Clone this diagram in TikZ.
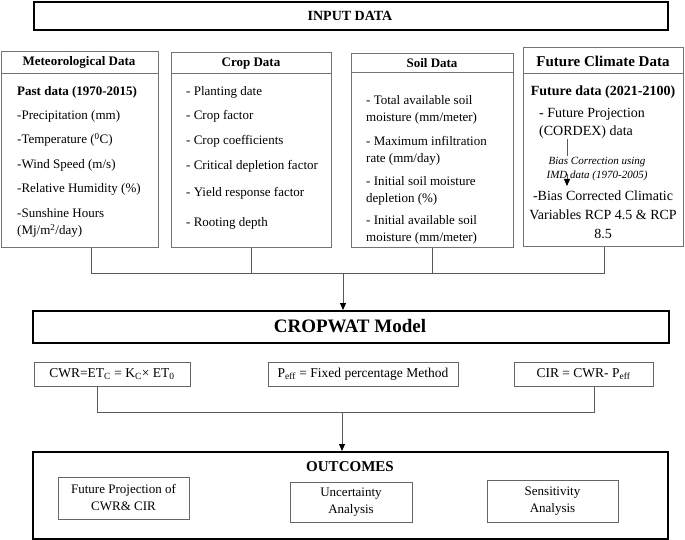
\documentclass[tikz,border=0pt]{standalone}
\usepackage{fontspec}
\setmainfont{Liberation Serif}
\usetikzlibrary{arrows.meta}
\begin{document}
\begin{tikzpicture}[x=1pt,y=-1pt,
  thickbox/.style={draw=black,line width=1.8pt,inner sep=0pt},
  databox/.style={draw=black!55,line width=0.9pt,inner sep=0pt},
  smallbox/.style={draw=black!60,line width=0.8pt,inner sep=0pt,align=center,font=\fontsize{13}{17}\selectfont},
  eqbox/.style={smallbox,font=\fontsize{13.5}{16}\selectfont},
  txt/.style={inner sep=0pt,anchor=west,font=\fontsize{13}{15}\selectfont},
  ftxt/.style={inner sep=0pt,font=\fontsize{14}{16}\selectfont},
  hdr/.style={inner sep=0pt,font=\fontsize{13}{15}\selectfont\bfseries},
  conn/.style={draw=black!65,line width=0.9pt},
  arr/.style={draw=black!65,line width=0.9pt,-{Triangle[length=7pt,width=6pt,color=black]}},
  hline/.style={draw=black!55,line width=0.8pt}
]
\useasboundingbox (0,0) rectangle (685,540);

% INPUT DATA
\node[thickbox,anchor=north west,minimum width=634pt,minimum height=28pt] (input) at (33,1.5) {};
\node[hdr,font=\fontsize{14}{16}\selectfont\bfseries] (inputt) at (350,15.5) {INPUT DATA};

% Meteorological box
\node[databox,anchor=north west,minimum width=157pt,minimum height=196pt] (met) at (0.6,51) {};
\draw[hline] (met.north west) ++(0,22) -- ++(157,0);
\node[hdr] (meth) at (79,62.5) {Meteorological Data};
\node[txt,font=\fontsize{13}{15}\selectfont\bfseries] (m1) at (17,92) {Past data (1970-2015)};
\node[txt] (m2) at (17,116) {-Precipitation (mm)};
\node[txt] (m3) at (17,140) {-Temperature (\textsuperscript{0}C)};
\node[txt] (m4) at (17,165) {-Wind Speed (m/s)};
\node[txt] (m5) at (17,189) {-Relative Humidity (\%)};
\node[txt] (m6) at (17,213) {-Sunshine Hours};
\node[txt] (m7) at (17,231) {(Mj/m\textsuperscript{2}/day)};

% Crop box
\node[databox,anchor=north west,minimum width=160pt,minimum height=195pt] (crop) at (171,52) {};
\draw[hline] (crop.north west) ++(0,21.5) -- ++(160,0);
\node[hdr] (croph) at (251,64) {Crop Data};
\node[txt] (c1) at (186,92) {- Planting date};
\node[txt] (c2) at (186,116) {- Crop factor};
\node[txt] (c3) at (186,141) {- Crop coefficients};
\node[txt] (c4) at (186,166) {- Critical depletion factor};
\node[txt] (c5) at (186,193) {- Yield response factor};
\node[txt] (c6) at (186,223) {- Rooting depth};

% Soil box
\node[databox,anchor=north west,minimum width=162pt,minimum height=194pt] (soil) at (351,53) {};
\draw[hline] (soil.north west) ++(0,19.5) -- ++(162,0);
\node[hdr] (soilh) at (432,63.5) {Soil Data};
\node[txt] (s1) at (366,100) {- Total available soil};
\node[txt] (s2) at (366,118) {moisture (mm/meter)};
\node[txt] (s3) at (366,141) {- Maximum infiltration};
\node[txt] (s4) at (366,159) {rate (mm/day)};
\node[txt] (s5) at (366,181) {- Initial soil moisture};
\node[txt] (s6) at (366,199) {depletion (\%)};
\node[txt] (s7) at (366,220) {- Initial available soil};
\node[txt] (s8) at (366,238) {moisture (mm/meter)};

% Future climate box
\node[databox,anchor=north west,minimum width=160pt,minimum height=199pt] (fut) at (523,47) {};
\draw[hline] (fut.north west) ++(0,26) -- ++(160,0);
\node[hdr,font=\fontsize{15}{17}\selectfont\bfseries] (futh) at (603,61) {Future Climate Data};
\node[ftxt,font=\fontsize{14}{16}\selectfont\bfseries] (f1) at (603,92) {Future data (2021-2100)};
\node[ftxt,anchor=west] (f2) at (539,114) {- Future Projection};
\node[ftxt,anchor=west] (f3) at (539,132) {(CORDEX) data};
\node[inner sep=0.5pt,fill=white,align=center,font=\fontsize{11}{14}\selectfont\itshape] (bias) at (597,169) {Bias Correction using\\IMD data (1970-2005)};
\coordinate (bcA) at (567,139);
\coordinate (bcM) at (567,174);
\coordinate (bcB) at (567,186);
\draw[conn] (bcA) -- (bias.north -| bcA);
\draw[arr] (bcM) -- (bcB);
\node[ftxt] (f4) at (603,196) {-Bias Corrected Climatic};
\node[ftxt] (f5) at (603,215) {Variables RCP 4.5 \& RCP};
\node[ftxt] (f6) at (603,234) {8.5};

% Top connectors
\coordinate (busL) at (91,273);
\coordinate (busR) at (604,273);
\coordinate (bus) at (343,273);
\draw[conn] (met.south -| busL) -- (busL) -- (busR) -- (fut.south -| busR);
\draw[conn] (crop.south) -- (crop.south |- busL);
\draw[conn] (soil.south) -- (soil.south |- busL);

% CROPWAT
\node[thickbox,anchor=north west,minimum width=636pt,minimum height=32pt] (cropwat) at (32,310) {};
\node[inner sep=0pt,font=\fontsize{19}{21}\selectfont\bfseries] (cropwatt) at (350,326) {CROPWAT Model};
\draw[arr] (bus) -- (bus |- cropwat.north);

% Equations
\node[eqbox,minimum width=156pt,minimum height=24pt] (cwr) at (112,374) {CWR=ET\textsubscript{C} = K\textsubscript{C}× ET\textsubscript{0}};
\node[eqbox,minimum width=190pt,minimum height=24pt] (peff) at (363,374) {P\textsubscript{eff} = Fixed percentage Method};
\node[eqbox,minimum width=139pt,minimum height=24pt] (cir) at (583.5,374) {CIR = CWR- P\textsubscript{eff}};

\coordinate (b2L) at (97,412);
\coordinate (b2R) at (594,412);
\coordinate (b2M) at (342,412);
\draw[conn] (cwr.south -| b2L) -- (b2L) -- (b2R) -- (cir.south -| b2R);

% OUTCOMES
\node[thickbox,anchor=north west,minimum width=635pt,minimum height=87pt] (outc) at (32,451) {};
\draw[arr] (b2M) -- (b2M |- outc.north);
\node[inner sep=0pt,font=\fontsize{15}{17}\selectfont\bfseries] (outct) at (350,467) {OUTCOMES};
\node[smallbox,minimum width=131pt,minimum height=42pt] (o1) at (123.5,498) {Future Projection of\\CWR\& CIR};
\node[smallbox,minimum width=122pt,minimum height=40pt] (o2) at (351,502) {Uncertainty\\Analysis};
\node[smallbox,minimum width=131pt,minimum height=42pt] (o3) at (552.5,501) {Sensitivity\\Analysis};
\end{tikzpicture}
\end{document}
